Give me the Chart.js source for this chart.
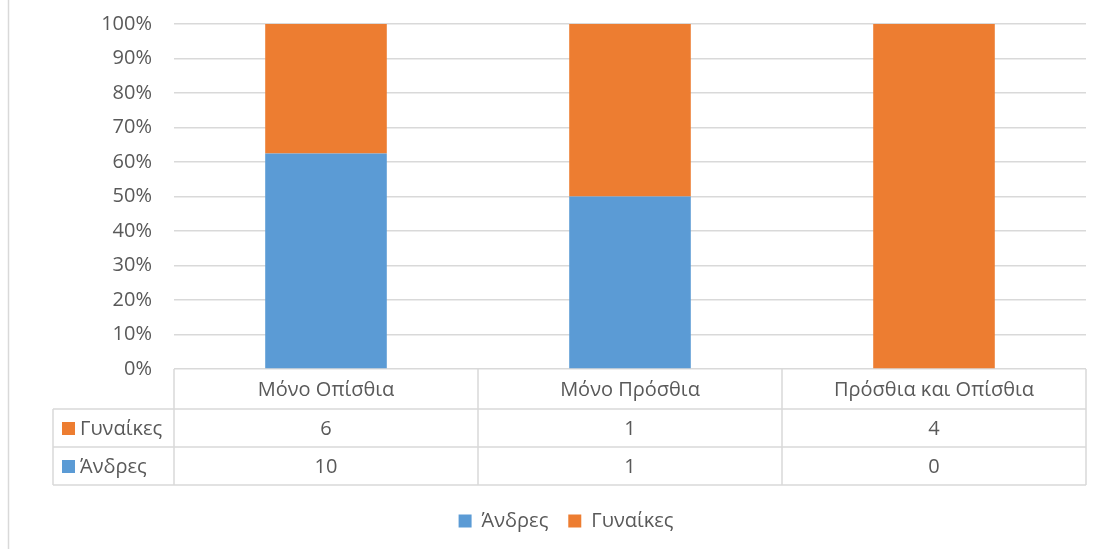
<!DOCTYPE html>
<html>
<head>
<meta charset="utf-8">
<script src="https://cdn.jsdelivr.net/npm/chart.js@4/dist/chart.umd.min.js"></script>
<style>
  html, body { margin: 0; padding: 0; background: #fff; }
  canvas { display: block; }
</style>
</head>
<body>
<canvas id="myChart" width="1102" height="549"></canvas>
<script>
const categories = ['Μόνο Οπίσθια', 'Μόνο Πρόσθια', 'Πρόσθια και Οπίσθια'];
const men = [10, 1, 0];
const women = [6, 1, 4];
const seriesNames = ['Άνδρες', 'Γυναίκες'];
const seriesColors = ['#5B9BD5', '#ED7D31'];

const textColor = '#595959';
const lineColor = '#D9D9D9';
const fontFamily = '"Open Sans", sans-serif';
const fontSize = 20;

function toPercent(values) {
    return values.map((v, i) => {
        const total = men[i] + women[i];
        return total ? v / total * 100 : 0;
    });
}

// draws the data table under the plot, using the x scale's category slots
const dataTable = {
    id: 'dataTable',
    afterLayout(chart) {
        // legend sits a bit right of the canvas centre in the original
        chart.legend.left += 23;
        chart.legend.right += 23;
    },
    beforeDraw(chart) {
        const ctx = chart.ctx;
        ctx.save();
        ctx.strokeStyle = lineColor;
        ctx.lineWidth = 1.5;
        ctx.beginPath();
        ctx.moveTo(8.5, 0);
        ctx.lineTo(8.5, chart.height);
        ctx.stroke();
        ctx.restore();
    },
    afterDraw(chart) {
        const ctx = chart.ctx;
        const x = chart.scales.x;
        const top = chart.chartArea.bottom;
        const left = 53;
        const right = x.right;
        const headH = 40;
        const rowH = 38;
        const y1 = top + headH;
        const y2 = y1 + rowH;
        const y3 = y2 + rowH;
        const slot = (x.right - x.left) / categories.length;

        ctx.save();
        ctx.strokeStyle = lineColor;
        ctx.lineWidth = 1.5;
        ctx.beginPath();
        [y1, y2, y3].forEach(y => {
            ctx.moveTo(left, y);
            ctx.lineTo(right, y);
        });
        ctx.moveTo(left, y1);
        ctx.lineTo(left, y3);
        for (let i = 0; i <= categories.length; i++) {
            const px = x.left + slot * i;
            ctx.moveTo(px, top);
            ctx.lineTo(px, y3);
        }
        ctx.stroke();

        ctx.font = fontSize + 'px ' + fontFamily;
        ctx.fillStyle = textColor;
        ctx.textAlign = 'center';
        ctx.textBaseline = 'middle';
        categories.forEach((c, i) => {
            const cx = x.getPixelForValue(i);
            ctx.fillText(c, cx, top + headH / 2 + 1);
            ctx.fillText(String(women[i]), cx, y1 + rowH / 2 + 1);
            ctx.fillText(String(men[i]), cx, y2 + rowH / 2 + 1);
        });

        const rows = [[seriesNames[1], seriesColors[1], y1], [seriesNames[0], seriesColors[0], y2]];
        rows.forEach(r => {
            ctx.fillStyle = r[1];
            ctx.fillRect(62, r[2] + rowH / 2 - 6, 13, 13);
            ctx.fillStyle = textColor;
            ctx.textAlign = 'left';
            ctx.fillText(r[0], 80, r[2] + rowH / 2 + 1);
        });
        ctx.restore();
    }
};

const ctx = document.getElementById('myChart');

const chart = new Chart(ctx, {
    type: 'bar',
    data: {
        labels: categories,
        datasets: [
            { label: seriesNames[0], data: toPercent(men), backgroundColor: seriesColors[0] },
            { label: seriesNames[1], data: toPercent(women), backgroundColor: seriesColors[1] }
        ]
    },
    options: {
        responsive: false,
        animation: false,
        layout: { padding: { top: 24, right: 16, left: 0, bottom: 8 } },
        datasets: { bar: { categoryPercentage: 1, barPercentage: 0.4 } },
        scales: {
            x: {
                stacked: true,
                grid: { display: false },
                border: { display: false },
                ticks: { display: false },
                afterFit: s => { s.height = 122; }
            },
            y: {
                stacked: true,
                min: 0,
                max: 100,
                ticks: {
                    stepSize: 10,
                    padding: 22,
                    color: textColor,
                    font: { family: fontFamily, size: fontSize },
                    callback: v => v + '%'
                },
                grid: { color: lineColor, lineWidth: 1.5, drawTicks: false },
                border: { display: false },
                afterFit: s => {
                    s.width = 174;
                    s.paddingTop = 0;
                    s.paddingBottom = 0;
                }
            }
        },
        plugins: {
            legend: {
                position: 'bottom',
                labels: {
                    boxWidth: 13,
                    boxHeight: 13,
                    padding: 20,
                    color: textColor,
                    font: { family: fontFamily, size: fontSize }
                }
            },
            tooltip: { enabled: false }
        }
    },
    plugins: [dataTable]
});
</script>
</body>
</html>
